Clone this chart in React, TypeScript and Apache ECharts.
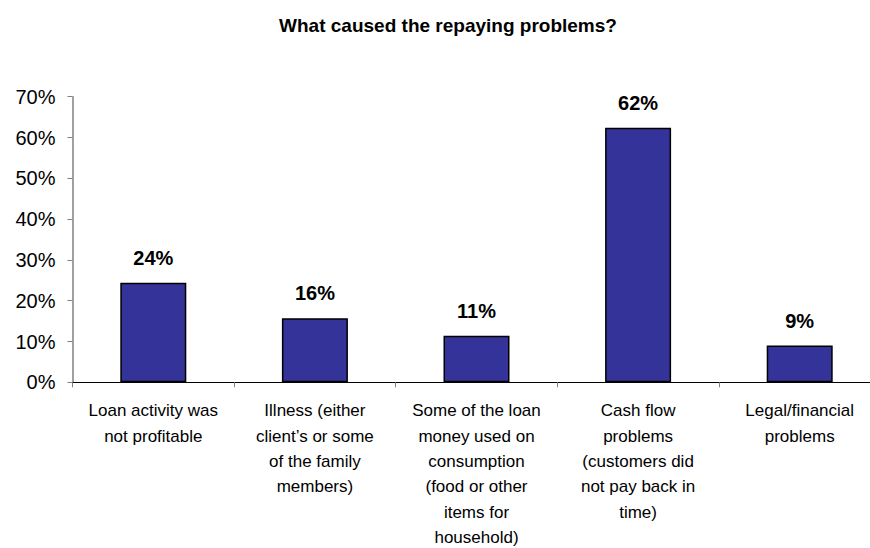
import React, { useEffect, useRef } from "react";
import * as echarts from "echarts";

const categories = [
  "Loan activity was\nnot profitable",
  "Illness (either\nclient’s or some\nof the family\nmembers)",
  "Some of the loan\nmoney used on\nconsumption\n(food or other\nitems for\nhousehold)",
  "Cash flow\nproblems\n(customers did\nnot pay back in\ntime)",
  "Legal/financial\nproblems",
];
const values = [0.244, 0.157, 0.114, 0.624, 0.09];
const yTicks = { min: 0, max: 0.7, interval: 0.1 };
const title = "What caused the repaying problems?";

const FONT = "Arial, 'Liberation Sans', sans-serif";

export default function App() {
  const ref = useRef<HTMLDivElement>(null);
  useEffect(() => {
    document.body.style.margin = "0";
    const chart = echarts.init(ref.current!, undefined, { renderer: "svg" });
    chart.setOption({
      animation: false,
      backgroundColor: "#ffffff",
      title: {
        text: title,
        left: 443,
        top: 11,
        textAlign: "center",
        textStyle: {
          fontFamily: FONT,
          fontSize: 19,
          fontWeight: "bold",
          color: "#000",
        },
      },
      grid: {
        left: 72.5,
        width: 808,
        top: 96.7,
        height: 285.6,
        containLabel: false,
        outerBoundsMode: "none",
      },
      xAxis: {
        type: "category",
        data: categories,
        axisLine: { lineStyle: { color: "#000", width: 1.2 } },
        axisTick: { show: true, alignWithLabel: false, length: 5, lineStyle: { color: "#808080" } },
        axisLabel: {
          interval: 0,
          margin: 16,
          fontFamily: FONT,
          fontSize: 17,
          lineHeight: 25.3,
          color: "#000",
          verticalAlign: "top",
        },
      },
      yAxis: {
        type: "value",
        min: yTicks.min,
        max: yTicks.max,
        interval: yTicks.interval,
        axisLine: { show: true, lineStyle: { color: "#808080", width: 1.5 } },
        axisTick: { show: true, length: 5, lineStyle: { color: "#808080" } },
        splitLine: { show: false },
        axisLabel: {
          margin: 17,
          fontFamily: FONT,
          fontSize: 20,
          color: "#000",
          formatter: (v: number) => Math.round(v * 100) + "%",
        },
      },
      series: [
        {
          type: "bar",
          data: values,
          barWidth: 66,
          itemStyle: { color: "#333399", borderColor: "#000", borderWidth: 1.5 },
          label: {
            show: true,
            position: "top",
            distance: 15,
            fontFamily: FONT,
            fontSize: 20,
            fontWeight: "bold",
            color: "#000",
            formatter: (p: any) => Math.round(p.value * 100) + "%",
          },
        },
      ],
    });
    return () => chart.dispose();
  }, []);
  return <div ref={ref} style={{ width: 870, height: 548 }} />;
}
